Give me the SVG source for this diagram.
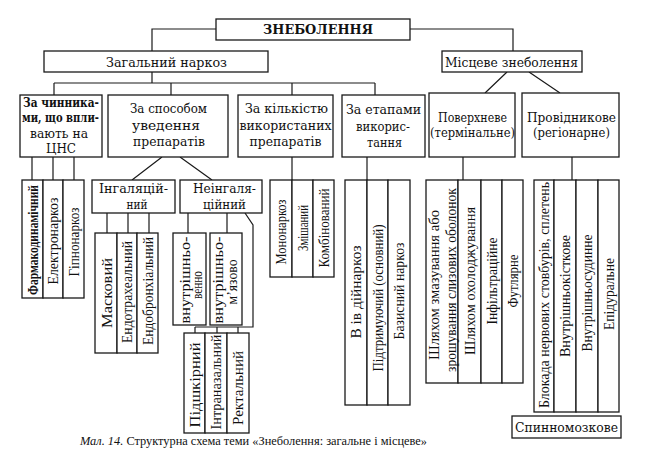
<svg xmlns="http://www.w3.org/2000/svg" width="659" height="475" viewBox="0 0 659 475">
<style>
.box{fill:#fff;stroke:#1a1a1a;stroke-width:1.3}
.ln{fill:none;stroke:#1a1a1a;stroke-width:1.2}
.h{font-family:"DejaVu Serif","Liberation Serif",serif;font-size:13px;text-anchor:middle;fill:#111}
.b{font-weight:bold}
.v{font-family:"Liberation Serif",serif;font-size:15px;text-anchor:middle;fill:#111}
.cap{font-family:"Liberation Serif",serif;font-size:12.5px;fill:#111}
</style>
<rect width="659" height="475" fill="#fff"/>
<g id="connectors" class="ln">
<path d="M216,29H152V51"/>
<path d="M410,29H513V51"/>
<path d="M152,72V83M54,83H375M54,83V95M171,83V95M292,83V95M375,83V95"/>
<path d="M507,72L485,93M529,72L560,93"/>
<path d="M32,157V180M53,157V180M74,157V180"/>
<path d="M162,157L132,180M180,157L212,180"/>
<path d="M107,213V233M128,213V233M149,213V233"/>
<path d="M188,213V233M227,213V233"/>
<path d="M245,213L253,225V327H195M195,327V333M217,327V333M238,327V333"/>
<path d="M292,157V180M367,157V180M463,157V180M572,157V180"/>
</g>
<g id="root"><rect class="box" x="216" y="19" width="194" height="21"/><text class="h b" x="318" y="34" font-size="14" textLength="110" lengthAdjust="spacingAndGlyphs">ЗНЕБОЛЕННЯ</text></g>
<g id="general"><rect class="box" x="44" y="51" width="224" height="21"/><text class="h" x="166.5" y="67" textLength="121" lengthAdjust="spacingAndGlyphs">Загальний наркоз</text></g>
<g id="local"><rect class="box" x="442" y="51" width="140" height="21"/><text class="h" x="511.5" y="67" textLength="133" lengthAdjust="spacingAndGlyphs">Місцеве знеболення</text></g>
<g id="by-factors"><rect class="box" x="20" y="95" width="82" height="62"/>
<text class="h b" x="61" y="107" textLength="76" lengthAdjust="spacingAndGlyphs">За чинника-</text><text class="h b" x="60.5" y="122" textLength="77" lengthAdjust="spacingAndGlyphs">ми, що впли-</text><text class="h" x="59" y="138" textLength="58" lengthAdjust="spacingAndGlyphs">вають на</text><text class="h" x="61" y="153" textLength="30" lengthAdjust="spacingAndGlyphs">ЦНС</text></g>
<g id="by-route"><rect class="box" x="108" y="95" width="120" height="62"/>
<text class="h" x="168.5" y="113" textLength="77" lengthAdjust="spacingAndGlyphs">За способом</text><text class="h" x="166" y="130" textLength="68" lengthAdjust="spacingAndGlyphs">уведення</text><text class="h" x="169" y="146" textLength="72" lengthAdjust="spacingAndGlyphs">препаратів</text></g>
<g id="by-count"><rect class="box" x="238" y="95" width="95" height="62"/>
<text class="h" x="286.5" y="113" textLength="83" lengthAdjust="spacingAndGlyphs">За кількістю</text><text class="h" x="285.5" y="130" textLength="92" lengthAdjust="spacingAndGlyphs">використаних</text><text class="h" x="285.5" y="146" textLength="72" lengthAdjust="spacingAndGlyphs">препаратів</text></g>
<g id="by-stage"><rect class="box" x="342" y="95" width="83" height="62"/>
<text class="h" x="383.5" y="114" textLength="75" lengthAdjust="spacingAndGlyphs">За етапами</text><text class="h" x="383" y="131" textLength="54" lengthAdjust="spacingAndGlyphs">викорис-</text><text class="h" x="384.5" y="147" textLength="35" lengthAdjust="spacingAndGlyphs">тання</text></g>
<g id="surface"><rect class="box" x="429" y="93" width="86" height="64"/>
<text class="h" x="472.5" y="122" textLength="69" lengthAdjust="spacingAndGlyphs">Поверхневе</text><text class="h" x="472.5" y="137" textLength="85" lengthAdjust="spacingAndGlyphs">(термінальне)</text></g>
<g id="conduction"><rect class="box" x="522" y="93" width="97" height="64"/>
<text class="h" x="571.5" y="122" textLength="89" lengthAdjust="spacingAndGlyphs">Провідникове</text><text class="h" x="571.5" y="137" textLength="77" lengthAdjust="spacingAndGlyphs">(регіонарне)</text></g>
<g id="inhal"><rect class="box" x="92" y="180" width="83" height="33"/>
<text class="h" x="133.5" y="193" textLength="69" lengthAdjust="spacingAndGlyphs">Інгаляцій-</text><text class="h" x="137" y="209" textLength="21" lengthAdjust="spacingAndGlyphs">ний</text></g>
<g id="noninhal"><rect class="box" x="180" y="180" width="82" height="33"/>
<text class="h" x="224.5" y="193" textLength="63" lengthAdjust="spacingAndGlyphs">Неінгаля-</text><text class="h" x="224.5" y="209" textLength="43" lengthAdjust="spacingAndGlyphs">ційний</text></g>
<g id="factors-leaves">
<rect class="box" x="22" y="180" width="21" height="118"/><rect class="box" x="43" y="180" width="20" height="118"/><rect class="box" x="63" y="180" width="21" height="118"/>
<text class="v b" transform="translate(37.5,240) rotate(-90)" font-size="14" textLength="110" lengthAdjust="spacingAndGlyphs">Фармакодинамічний</text>
<text class="v" transform="translate(58,241) rotate(-90)" textLength="87" lengthAdjust="spacingAndGlyphs">Електронаркоз</text>
<text class="v" transform="translate(78.5,242) rotate(-90)" textLength="69" lengthAdjust="spacingAndGlyphs">Гіпнонаркоз</text>
</g>
<g id="inhal-leaves">
<rect class="box" x="95" y="233" width="22" height="120"/><rect class="box" x="117" y="233" width="20" height="120"/><rect class="box" x="137" y="233" width="21" height="120"/>
<text class="v" transform="translate(111.5,293) rotate(-90)" textLength="70" lengthAdjust="spacingAndGlyphs">Масковий</text>
<text class="v" transform="translate(132,292) rotate(-90)" textLength="102" lengthAdjust="spacingAndGlyphs">Ендотрахеальний</text>
<text class="v" transform="translate(152.5,291) rotate(-90)" textLength="108" lengthAdjust="spacingAndGlyphs">Ендобронхіальний</text>
</g>
<g id="iv"><rect class="box" x="173" y="233" width="33" height="92"/>
<text class="v" transform="translate(189.5,280) rotate(-90)" font-size="14" textLength="87" lengthAdjust="spacingAndGlyphs">внутрішньо-</text>
<text class="v" transform="translate(202,285) rotate(-90)" font-size="14" textLength="28" lengthAdjust="spacingAndGlyphs">венно</text></g>
<g id="im"><rect class="box" x="210" y="233" width="32" height="92"/>
<text class="v" transform="translate(223,280) rotate(-90)" font-size="14" textLength="87" lengthAdjust="spacingAndGlyphs">внутрішньо-</text>
<text class="v" transform="translate(237,282) rotate(-90)" font-size="14" textLength="45" lengthAdjust="spacingAndGlyphs">м’язово</text></g>
<g id="other-leaves">
<rect class="box" x="184" y="333" width="21" height="100"/><rect class="box" x="205" y="333" width="22" height="100"/><rect class="box" x="227" y="333" width="22" height="100"/>
<text class="v" transform="translate(199.5,385) rotate(-90)" textLength="85" lengthAdjust="spacingAndGlyphs">Підшкірний</text>
<text class="v" transform="translate(221,382) rotate(-90)" textLength="95" lengthAdjust="spacingAndGlyphs">Інтраназальний</text>
<text class="v" transform="translate(243,388) rotate(-90)" textLength="74" lengthAdjust="spacingAndGlyphs">Ректальний</text>
</g>
<g id="count-leaves">
<rect class="box" x="270" y="180" width="22" height="97"/><rect class="box" x="292" y="180" width="21" height="97"/><rect class="box" x="313" y="180" width="21" height="97"/>
<text class="v" transform="translate(286,232) rotate(-90)" textLength="65" lengthAdjust="spacingAndGlyphs">Мононаркоз</text>
<text class="v" transform="translate(307.5,228) rotate(-90)" textLength="46" lengthAdjust="spacingAndGlyphs">Змішаний</text>
<text class="v" transform="translate(328.5,228) rotate(-90)" textLength="79" lengthAdjust="spacingAndGlyphs">Комбінований</text>
</g>
<g id="stage-leaves">
<rect class="box" x="345" y="180" width="22" height="225"/><rect class="box" x="367" y="180" width="21" height="225"/><rect class="box" x="388" y="180" width="22" height="225"/>
<text class="v" transform="translate(361,292) rotate(-90)" textLength="93" lengthAdjust="spacingAndGlyphs">В ів дійнаркоз</text>
<text class="v" transform="translate(382.5,298) rotate(-90)" textLength="147" lengthAdjust="spacingAndGlyphs">Підтримуючий (основний)</text>
<text class="v" transform="translate(404,291) rotate(-90)" textLength="97" lengthAdjust="spacingAndGlyphs">Базисний наркоз</text>
</g>
<g id="surface-leaves">
<rect class="box" x="426" y="180" width="32" height="203"/><rect class="box" x="458" y="180" width="23" height="203"/><rect class="box" x="481" y="180" width="21" height="203"/><rect class="box" x="502" y="180" width="21" height="203"/>
<text class="v" transform="translate(438.5,285) rotate(-90)" font-size="14" textLength="150" lengthAdjust="spacingAndGlyphs">Шляхом змазування або</text>
<text class="v" transform="translate(455.5,280) rotate(-90)" font-size="14" textLength="184" lengthAdjust="spacingAndGlyphs">зрошування слизових оболонок</text>
<text class="v" transform="translate(474.5,281) rotate(-90)" textLength="148" lengthAdjust="spacingAndGlyphs">Шляхом охолоджування</text>
<text class="v" transform="translate(496.5,281) rotate(-90)" textLength="87" lengthAdjust="spacingAndGlyphs">Інфільтраційне</text>
<text class="v" transform="translate(517.5,281) rotate(-90)" textLength="53" lengthAdjust="spacingAndGlyphs">Футлярне</text>
</g>
<g id="conduction-leaves">
<rect class="box" x="534" y="180" width="20" height="232"/><rect class="box" x="554" y="180" width="22" height="232"/><rect class="box" x="576" y="180" width="22" height="232"/><rect class="box" x="598" y="180" width="21" height="232"/>
<text class="v" transform="translate(549,295) rotate(-90)" textLength="226" lengthAdjust="spacingAndGlyphs">Блокада нервових стовбурів, сплетень</text>
<text class="v" transform="translate(570,296) rotate(-90)" textLength="122" lengthAdjust="spacingAndGlyphs">Внутрішньокісткове</text>
<text class="v" transform="translate(592,293) rotate(-90)" textLength="117" lengthAdjust="spacingAndGlyphs">Внутрішньосудинне</text>
<text class="v" transform="translate(613.5,294) rotate(-90)" textLength="72" lengthAdjust="spacingAndGlyphs">Епідуральне</text>
</g>
<g id="spinal"><rect class="box" x="512" y="416" width="109" height="22"/><text class="h" x="566.5" y="432" textLength="103" lengthAdjust="spacingAndGlyphs">Спинномозкове</text></g>
<text class="cap" x="80" y="445" textLength="347" lengthAdjust="spacingAndGlyphs"><tspan font-style="italic">Мал. 14.</tspan> Структурна схема теми «Знеболення: загальне і місцеве»</text>
</svg>
